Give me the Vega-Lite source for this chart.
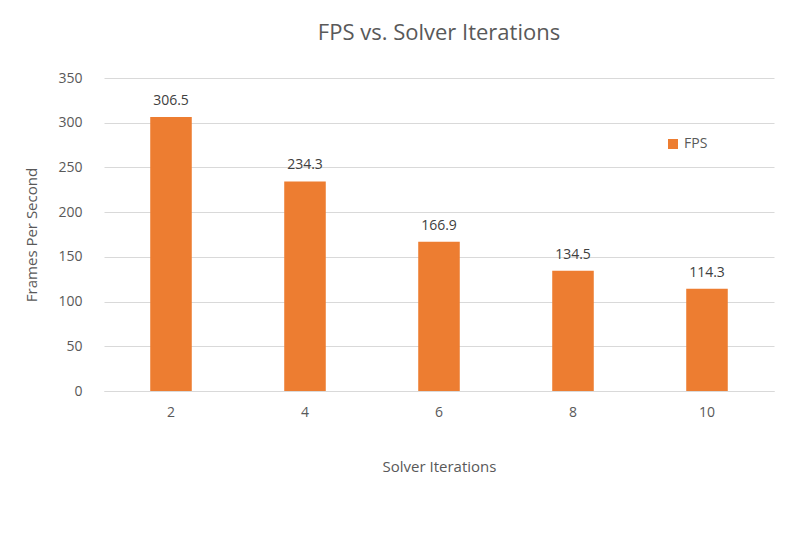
{
"$schema":"https://vega.github.io/schema/vega-lite/v6.json",
"width":670,"height":313,
"autosize":{"type":"none"},
"padding":{"left":104,"top":78,"right":22,"bottom":142},
"background":"white",
"title":{"text":"FPS vs. Solver Iterations","fontSize":22,"font":"Open Sans","fontWeight":"normal","color":"#595959","offset":26,"anchor":"middle"},
"data":{"values":[
{"it":"2","fps":306.5,"s":"FPS"},
{"it":"4","fps":234.3,"s":"FPS"},
{"it":"6","fps":166.9,"s":"FPS"},
{"it":"8","fps":134.5,"s":"FPS"},
{"it":"10","fps":114.3,"s":"FPS"}]},
"config":{"view":{"stroke":null},"font":"Open Sans"},
"encoding":{
"x":{"field":"it","type":"nominal","sort":null,"scale":{"paddingInner":0.69,"paddingOuter":0.345},
"axis":{"title":"Solver Iterations","labelAngle":0,"labelFontSize":14,"labelColor":"#595959","titleFontSize":15,"titleFontWeight":"normal","titleColor":"#595959","titlePadding":40,"labelPadding":14,"ticks":false,"domainColor":"#d9d9d9"}},
"y":{"field":"fps","type":"quantitative","scale":{"domain":[0,350]},
"axis":{"title":"Frames Per Second","values":[0,50,100,150,200,250,300,350],"labelFontSize":14,"labelColor":"#595959","titleFontSize":15,"titleFontWeight":"normal","titleColor":"#595959","titlePadding":18,"labelPadding":22,"ticks":false,"domain":false,"gridColor":"#d9d9d9"}}},
"layer":[
{"mark":{"type":"bar","color":"#ed7d31"},
"encoding":{"color":{"field":"s","type":"nominal","scale":{"range":["#ed7d31"]},
"legend":{"title":null,"orient":"none","legendX":562,"legendY":59,"labelFontSize":14,"labelColor":"#595959","symbolType":"square","symbolSize":100}}}},
{"mark":{"type":"text","dy":-16,"fontSize":14,"color":"#404040"},"encoding":{"text":{"field":"fps","type":"quantitative","format":".1f"}}}
]
}
